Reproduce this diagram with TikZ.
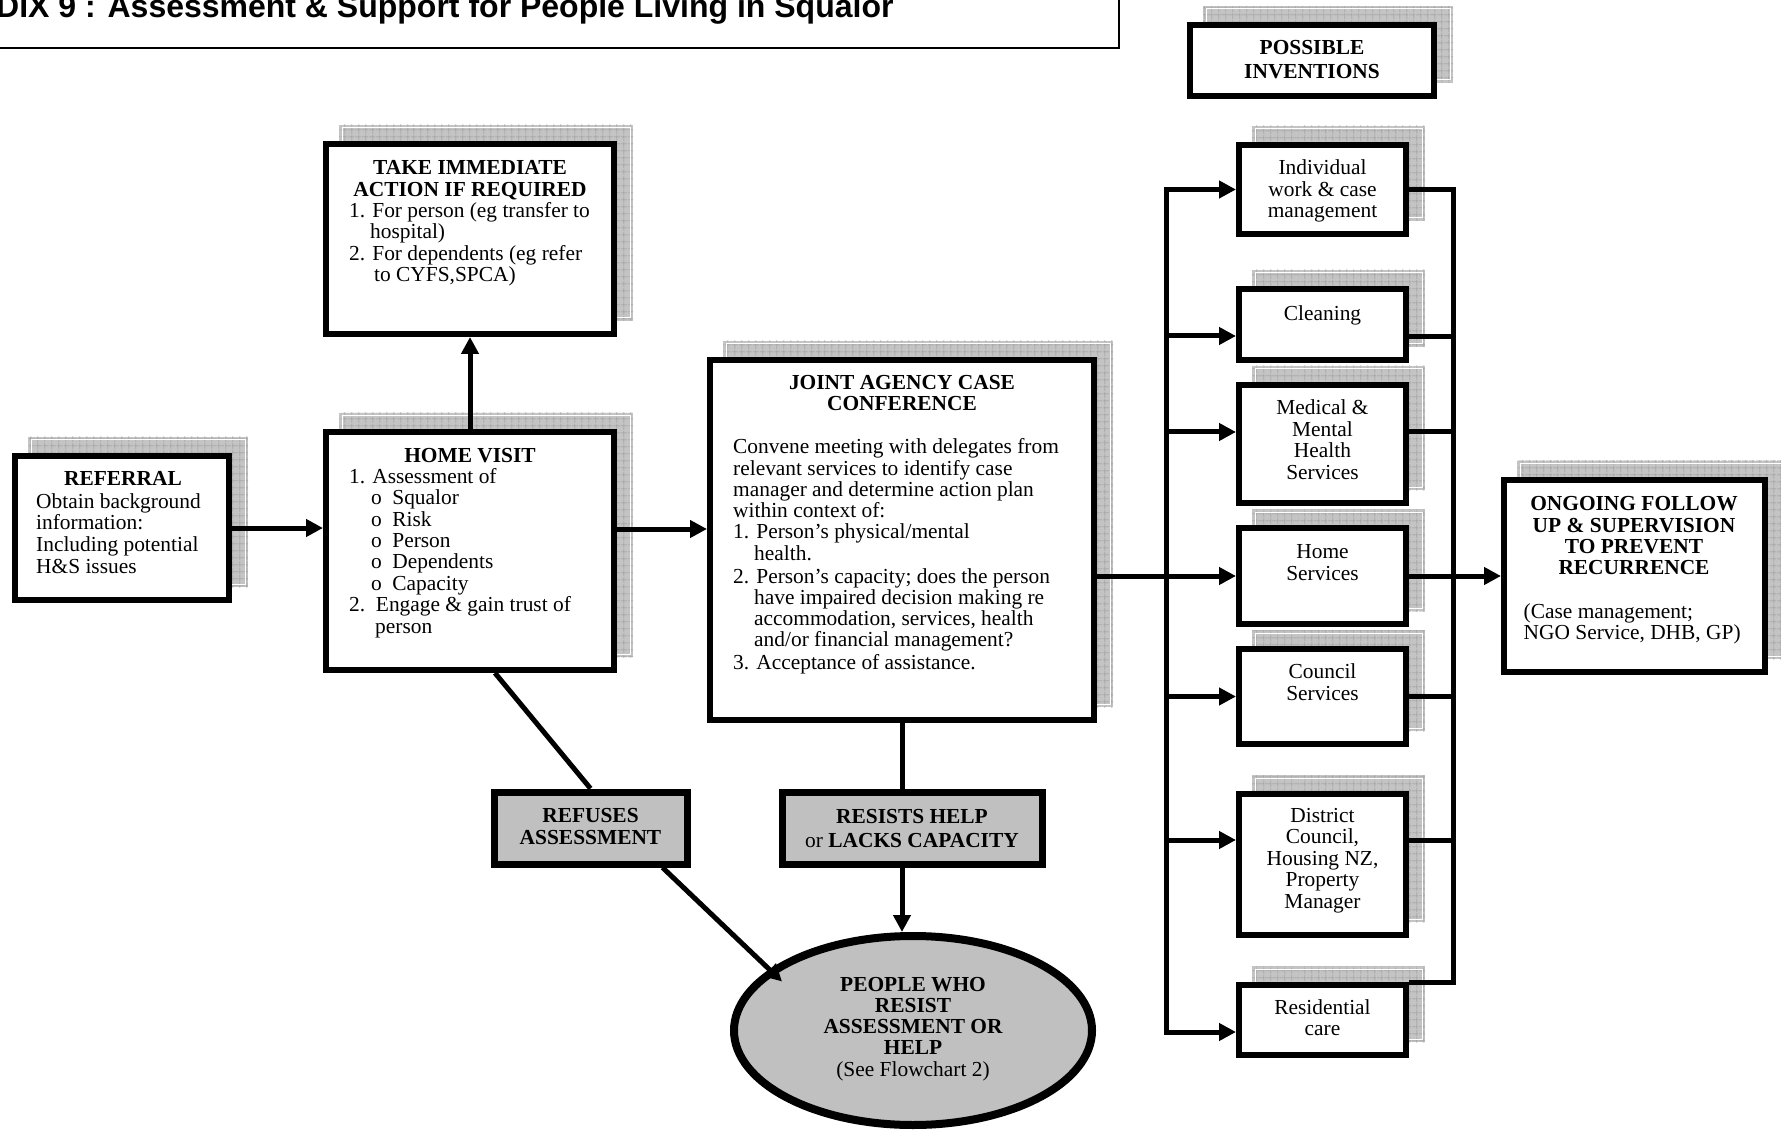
\documentclass[tikz,border=0pt]{standalone}
\usepackage{fontspec}
\setmainfont{Liberation Serif}
\newfontfamily\headfont{Liberation Sans}
\usetikzlibrary{arrows.meta,shapes.geometric,calc,backgrounds,patterns.meta}
\definecolor{boxgrey}{RGB}{192,192,192}
\definecolor{shadegrey}{RGB}{196,196,196}
\definecolor{gridgrey}{RGB}{150,150,150}
\newcommand\firstln{\rule{0pt}{15pt}}
\newcommand\boxshadow[1]{%
  \path[shadowfill] ($(#1.south west)+(16,-16)$) rectangle ($(#1.north east)+(16,-16)$);
  \path[shadowgridh] ($(#1.south west)+(16,-16)$) rectangle ($(#1.north east)+(16,-16)$);
  \path[shadowgridv] ($(#1.south west)+(16,-16)$) rectangle ($(#1.north east)+(16,-16)$);
  \draw[shadowrim] ($(#1.south west)+(19,-19)$) rectangle ($(#1.north east)+(13,-13)$);
}
\tikzset{
  box/.style={draw, rectangle, line width=6pt, fill=white, inner sep=0pt},
  greybox/.style={draw, rectangle, line width=7pt, fill=boxgrey, inner sep=0pt},
  txt/.style={inner sep=0pt, font=\fontsize{21.4}{21.3}\selectfont},
  txtb/.style={inner sep=0pt, font=\fontsize{21.4}{21}\selectfont\bfseries},
  conn/.style={line width=5pt},
  arrow/.style={line width=5pt, -{Triangle[length=17pt,width=17pt]}},
  shadowfill/.style={fill=shadegrey},
  shadowgridh/.style={pattern={Lines[angle=0,distance=6.5pt,line width=0.5pt]}, pattern color=gridgrey},
  shadowgridv/.style={pattern={Lines[angle=90,distance=6.5pt,line width=0.5pt]}, pattern color=gridgrey},
  shadowrim/.style={draw=white, line width=1pt}
}
\begin{document}
\begin{tikzpicture}[x=1pt,y=-1pt]
\useasboundingbox (0,0) rectangle (1781,1131);

% title
\node[draw, rectangle, line width=2.5pt, inner sep=0pt, minimum width=1139pt, minimum height=68pt] (titlebox) at (549.5,14) {};
\node[inner sep=0pt, anchor=base west, font=\headfont\bfseries\fontsize{32}{32}\selectfont] (title) at (-4,17.5) {DIX 9 : Assessment \& Support for People Living in Squalor};

% boxes
\node[box, minimum width=214pt, minimum height=144pt] (referral) at (122,528) {};
\node[box, minimum width=288pt, minimum height=190pt] (take) at (470,239) {};
\node[box, minimum width=288pt, minimum height=238pt] (home) at (470,551) {};
\node[box, minimum width=384pt, minimum height=360pt] (joint) at (902,540) {};
\node[box, minimum width=244pt, minimum height=71pt] (possible) at (1312,60.5) {};
\node[box, minimum width=167pt, minimum height=89pt] (indiv) at (1322.5,189.5) {};
\node[box, minimum width=167pt, minimum height=71pt] (clean) at (1322.5,324.5) {};
\node[box, minimum width=167pt, minimum height=118pt] (med) at (1322.5,444) {};
\node[box, minimum width=167pt, minimum height=96pt] (homeserv) at (1322.5,576) {};
\node[box, minimum width=167pt, minimum height=95pt] (council) at (1322.5,696.5) {};
\node[box, minimum width=167pt, minimum height=141pt] (district) at (1322.5,864.5) {};
\node[box, minimum width=167pt, minimum height=70pt] (resid) at (1322.5,1020) {};
\node[box, minimum width=261pt, minimum height=192pt] (ongoing) at (1634.5,576) {};
\node[greybox, minimum width=193pt, minimum height=72pt] (refuses) at (590.5,828) {};
\node[greybox, minimum width=260pt, minimum height=72pt] (resists) at (912,828) {};
\node[ellipse, draw, line width=8pt, fill=boxgrey, inner sep=0pt, minimum width=358pt, minimum height=189pt] (ell) at (913,1030.5) {};

% texts
\node[txtb, anchor=north] (t-ref1) at (123,470) {\firstln REFERRAL};
\node[txt, anchor=north west, align=left, font=\fontsize{21.4}{21.9}\selectfont] (t-ref2) at (36,492.8) {\firstln Obtain background\\information:\\Including potential\\H\&S issues};

\node[txtb, anchor=north, align=center, font=\fontsize{21.4}{21.5}\selectfont\bfseries] (t-take1) at (470,159.5) {\firstln TAKE IMMEDIATE\\ACTION IF REQUIRED};
\node[txt, anchor=north west, align=left, font=\fontsize{21.4}{21.5}\selectfont] (t-take2) at (349,202) {\firstln 1. For person (eg transfer to\\\hspace*{21pt}hospital)\\2. For dependents (eg refer\\\hspace*{25pt}to CYFS,SPCA)};

\node[txtb, anchor=north] (t-home1) at (470,447) {\firstln HOME VISIT};
\node[txt, anchor=north west, align=left, font=\fontsize{21.4}{21.4}\selectfont] (t-home2) at (349,468) {\firstln 1. Assessment of\\
\hspace*{22pt}o\hspace{10.5pt}Squalor\\
\hspace*{22pt}o\hspace{10.5pt}Risk\\
\hspace*{22pt}o\hspace{10.5pt}Person\\
\hspace*{22pt}o\hspace{10.5pt}Dependents\\
\hspace*{22pt}o\hspace{10.5pt}Capacity\\
2.\ \ Engage \& gain trust of\\
\hspace*{26pt}person};

\node[txtb, anchor=north, align=center] (t-joint1) at (902,374) {\firstln JOINT AGENCY CASE\\CONFERENCE};
\node[txt, anchor=north west, align=left] (t-joint2) at (733,438.5) {\firstln Convene meeting with delegates from\\
relevant services to identify case\\
manager and determine action plan\\
within context of:\\
1. Person’s physical/mental\\
\hspace*{21pt}health.\\[1.5pt]
2. Person’s capacity; does the person\\
\hspace*{21pt}have impaired decision making re\\
\hspace*{21pt}accommodation, services, health\\
\hspace*{21pt}and/or financial management?\\[1.5pt]
3. Acceptance of assistance.};

\node[txtb, anchor=north, align=center, font=\fontsize{21.4}{24.5}\selectfont\bfseries] (t-poss) at (1312,39) {\firstln POSSIBLE\\INVENTIONS};
\node[txt, anchor=north, align=center, font=\fontsize{21.4}{21.5}\selectfont] (t-indiv) at (1322.5,159.5) {\firstln Individual\\work \& case\\management};
\node[txt, anchor=north, align=center] (t-clean) at (1322.5,305.5) {\firstln Cleaning};
\node[txt, anchor=north, align=center, font=\fontsize{21.4}{21.5}\selectfont] (t-med) at (1322.5,399.5) {\firstln Medical \&\\Mental\\Health\\Services};
\node[txt, anchor=north, align=center] (t-homeserv) at (1322.5,543.5) {\firstln Home\\Services};
\node[txt, anchor=north, align=center] (t-council) at (1322.5,663.5) {\firstln Council\\Services};
\node[txt, anchor=north, align=center, font=\fontsize{21.4}{21.5}\selectfont] (t-district) at (1322.5,807) {\firstln District\\Council,\\Housing NZ,\\Property\\Manager};
\node[txt, anchor=north, align=center] (t-resid) at (1322.5,999) {\firstln Residential\\care};

\node[txtb, anchor=north, align=center, font=\fontsize{21.4}{21.3}\selectfont\bfseries] (t-ong1) at (1634,495.5) {\firstln ONGOING FOLLOW\\UP \& SUPERVISION\\TO PREVENT\\RECURRENCE};
\node[txt, anchor=north west, align=left, font=\fontsize{21.4}{21.6}\selectfont] (t-ong2) at (1523.5,602.8) {\firstln (Case management;\\NGO Service, DHB, GP)};

\node[txtb, anchor=north, align=center, font=\fontsize{21.4}{21.5}\selectfont\bfseries] (t-refuses) at (590.5,807.5) {\firstln REFUSES\\ASSESSMENT};
\node[txtb, anchor=north, align=center, font=\fontsize{21.4}{24.5}\selectfont\bfseries] (t-resists) at (912,808) {\firstln RESISTS HELP\\{\mdseries or} LACKS CAPACITY};
\node[txtb, anchor=north, align=center, font=\fontsize{21.4}{21.2}\selectfont\bfseries] (t-ell) at (913,976) {\firstln PEOPLE WHO\\RESIST\\ASSESSMENT OR\\HELP\\{\mdseries (See Flowchart 2)}};

% connector helper coordinates
\coordinate (busL) at (1166,0);
\coordinate (busR) at (1453,0);
\coordinate (hj) at (0,529);
\coordinate (cleanIn) at ($(clean.west)+(0,11.5)$);
\coordinate (medIn) at ($(med.west)+(0,-12)$);
\coordinate (distIn) at ($(district.west)+(0,-24.5)$);
\coordinate (residIn) at ($(resid.west)+(0,12)$);
\coordinate (cleanOut) at ($(clean.east)+(0,12.5)$);
\coordinate (medOut) at ($(med.east)+(0,-12)$);
\coordinate (distOut) at ($(district.east)+(0,-24.5)$);
\coordinate (homeBot) at ($(home.south west)!0.585!(home.south east)$);
\coordinate (refBot) at ($(refuses.south west)!0.86!(refuses.south east)$);
\coordinate (ellIn) at ($(ell.center)+(-131,-49)$);

% connectors
\draw[arrow] (referral.east) -- (referral.east -| home.west);
\draw[arrow] (home.north) -- (take.south);
\draw[arrow] (hj -| home.east) -- (hj -| joint.west);
\draw[arrow] (joint.east |- homeserv.west) -- (homeserv.west);
\draw[line width=5pt, {Triangle[length=17pt,width=17pt]}-{Triangle[length=17pt,width=17pt]}] (indiv.west) -- (indiv.west -| busL) -- (busL |- residIn) -- (residIn);
\draw[arrow] (busL |- cleanIn) -- (cleanIn);
\draw[arrow] (busL |- medIn) -- (medIn);
\draw[arrow] (busL |- council.west) -- (council.west);
\draw[arrow] (busL |- distIn) -- (distIn);
\draw[conn] (indiv.east) -- (indiv.east -| busR) -- (busR |- resid.north east) -- (resid.north east);
\draw[conn] (cleanOut) -- (cleanOut -| busR);
\draw[conn] (medOut) -- (medOut -| busR);
\draw[conn] (council.east) -- (council.east -| busR);
\draw[conn] (distOut) -- (distOut -| busR);
\draw[arrow] (homeserv.east) -- (homeserv.east -| ongoing.west);
\draw[conn] (joint.south) -- (joint.south |- resists.north);
\draw[arrow] (resists.south -| joint.south) -- (ell.north -| joint.south);
\draw[conn] (homeBot) -- (refuses.north);
\draw[arrow] (refBot) -- (ellIn);

% shadows
\begin{scope}[on background layer]
\boxshadow{referral}
\boxshadow{take}
\boxshadow{home}
\boxshadow{joint}
\boxshadow{possible}
\boxshadow{indiv}
\boxshadow{clean}
\boxshadow{med}
\boxshadow{homeserv}
\boxshadow{council}
\boxshadow{district}
\boxshadow{resid}
\boxshadow{ongoing}
\end{scope}
\end{tikzpicture}
\end{document}
